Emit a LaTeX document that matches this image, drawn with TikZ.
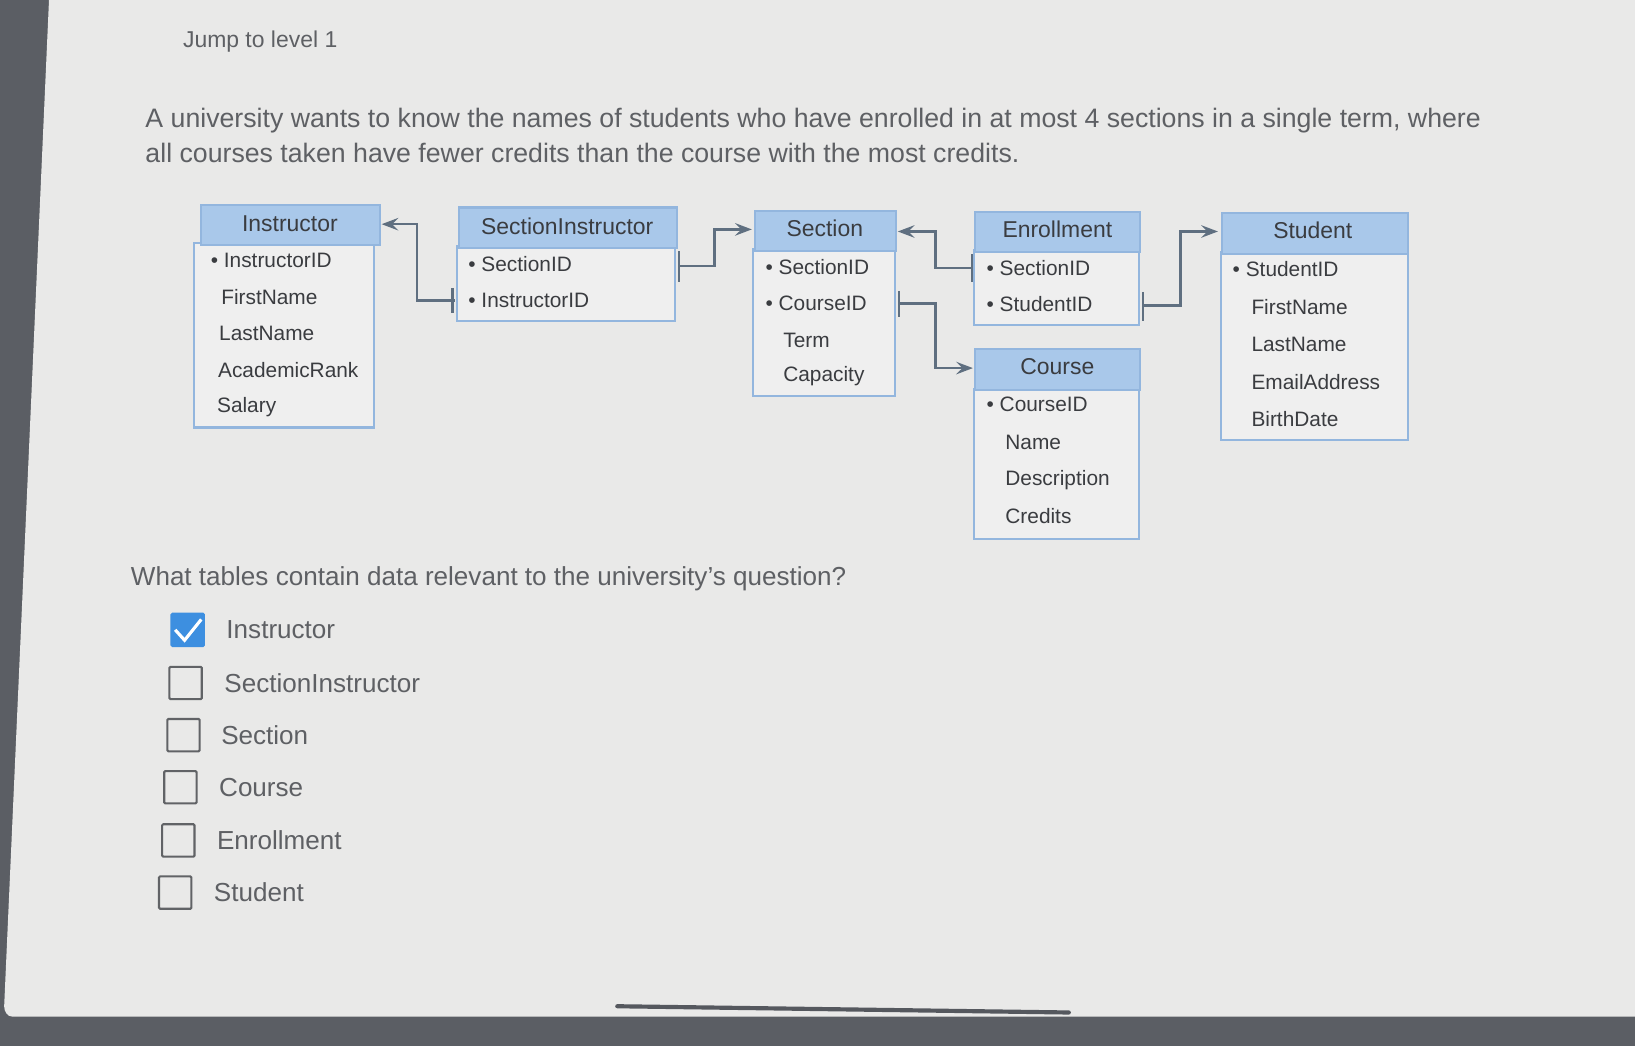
\documentclass[tikz,border=0pt]{standalone}
\usepackage{fontspec}
\setmainfont{Liberation Sans}
\usetikzlibrary{arrows.meta}
\definecolor{hdr}{HTML}{A9C8EA}
\definecolor{bdr}{HTML}{93B6DE}
\definecolor{bodyc}{HTML}{EFEFEF}
\definecolor{txt}{HTML}{3A3C40}
\definecolor{gtxt}{HTML}{5E6064}
\definecolor{conn}{HTML}{5F6F80}
\definecolor{chk}{HTML}{3D8FE0}
\definecolor{dark}{HTML}{5B5E64}
\definecolor{page}{HTML}{E9E9E8}
\definecolor{barc}{HTML}{55585E}
\tikzset{
 tbody/.style={draw=bdr,line width=2pt,fill=bodyc},
 thead/.style={draw=bdr,line width=2pt,fill=hdr},
 htext/.style={text=txt,font=\fontsize{22}{25}\selectfont},
 rtext/.style={text=txt,font=\fontsize{20}{23}\selectfont,anchor=west,inner sep=0pt},
 link/.style={draw=conn,line width=2.4pt,-{Stealth[length=16pt,width=12pt,inset=6pt]}},
 bar/.style={draw=conn,line width=2.4pt},
 box/.style={draw=txt!80,line width=2pt,minimum size=31pt,inner sep=0pt,rounded corners=1pt},
 opt/.style={text=gtxt,font=\fontsize{25}{28}\selectfont,anchor=west,inner sep=0pt}
}
\begin{document}
\begin{tikzpicture}[x=1pt,y=-1pt]
\useasboundingbox (0,0) rectangle (1568,1003);
\fill[dark] (0,0) rectangle (1568,1003);
\fill[page] (47,0) -- (1568,0) -- (1568,975) -- (12,975) to[out=180,in=-90] (4,965) -- cycle;
\node[text=gtxt,font=\fontsize{22}{25}\selectfont,anchor=west] (jump) at (172,40) {Jump to level 1};
\node[text=gtxt,font=\fontsize{25.6}{34}\selectfont,anchor=north west,align=left] (q) at (136,100) {A university wants to know the names of students who have enrolled in at most 4 sections in a single term, where\\all courses taken have fewer credits than the course with the most credits.};
% Instructor
\path[tbody] (186,233) rectangle (359,410);
\path[thead] (193,197) rectangle (364,235);
\node[htext] (ih) at (278,215) {Instructor};
\node[rtext] (i1) at (202,250) {• InstructorID};
\node[rtext] (i2) at (212,285) {FirstName};
\node[rtext] (i3) at (210,320) {LastName};
\node[rtext] (i4) at (209,355) {AcademicRank};
\node[rtext] (i5) at (208,390) {Salary};
% SectionInstructor
\path[tbody] (438,236) rectangle (647,308);
\path[thead] (440,199) rectangle (649,238);
\node[htext] (sih) at (544,217) {SectionInstructor};
\node[rtext] (si1) at (449,253) {• SectionID};
\node[rtext] (si2) at (449,288) {• InstructorID};
% Section
\path[tbody] (722,239) rectangle (858,380);
\path[thead] (724,202) rectangle (859,241);
\node[htext] (sh) at (791,219) {Section};
\node[rtext] (s1) at (734,256) {• SectionID};
\node[rtext] (s2) at (734,291) {• CourseID};
\node[rtext] (s3) at (751,326) {Term};
\node[rtext] (s4) at (751,361) {Capacity};
% Enrollment
\path[tbody] (934,240) rectangle (1092,312);
\path[thead] (935,203) rectangle (1093,242);
\node[htext] (eh) at (1014,220) {Enrollment};
\node[rtext] (e1) at (946,257) {• SectionID};
\node[rtext] (e2) at (946,292) {• StudentID};
% Course
\path[tbody] (934,373) rectangle (1092,517);
\path[thead] (935,335) rectangle (1093,374);
\node[htext] (ch) at (1014,352) {Course};
\node[rtext] (c1) at (946,388) {• CourseID};
\node[rtext] (c2) at (964,424) {Name};
\node[rtext] (c3) at (964,460) {Description};
\node[rtext] (c4) at (964,495) {Credits};
% Student
\path[tbody] (1171,242) rectangle (1350,422);
\path[thead] (1172,204) rectangle (1350,244);
\node[htext] (sth) at (1259,221) {Student};
\node[rtext] (st1) at (1182,258) {• StudentID};
\node[rtext] (st2) at (1200,294) {FirstName};
\node[rtext] (st3) at (1200,330) {LastName};
\node[rtext] (st4) at (1200,366) {EmailAddress};
\node[rtext] (st5) at (1200,402) {BirthDate};
% connectors
\coordinate (a0) at (436,288); \coordinate (a1) at (366,215);
\draw[link] (a0) -- (400,288) -- (400,215) -- (a1);
\draw[bar] (434,276) -- (434,300);
\coordinate (b0) at (651,255); \coordinate (b1) at (721,220);
\draw[link] (b0) -- (685,255) -- (685,220) -- (b1);
\draw[bar] (651,241) -- (651,270);
\coordinate (c0) at (932,257); \coordinate (cc1) at (861,222);
\draw[link] (c0) -- (897,257) -- (897,222) -- (cc1);
\draw[bar] (932,244) -- (932,270);
\coordinate (d0) at (862,291); \coordinate (d1) at (933,353);
\draw[link] (d0) -- (897,291) -- (897,353) -- (d1);
\draw[bar] (862,279) -- (862,304);
\coordinate (f0) at (1096,293); \coordinate (f1) at (1168,222);
\draw[link] (f0) -- (1132,293) -- (1132,222) -- (f1);
\draw[bar] (1096,280) -- (1096,308);
% question
\node[text=gtxt,font=\fontsize{25}{28}\selectfont,anchor=west] (q2) at (122,555) {What tables contain data relevant to the university's question?};
\node[box,draw=chk,fill=chk] (k1) at (180,604) {};
\draw[white,line width=3pt] (168,604) -- (177,614) -- (193,594);
\node[opt] (o1) at (217,604) {Instructor};
\node[box] (k2) at (178,655) {}; \node[opt] (o2) at (215,655) {SectionInstructor};
\node[box] (k3) at (176,705) {}; \node[opt] (o3) at (212,705) {Section};
\node[box] (k4) at (173,755) {}; \node[opt] (o4) at (210,755) {Course};
\node[box] (k5) at (171,806) {}; \node[opt] (o5) at (208,806) {Enrollment};
\node[box] (k6) at (168,856) {}; \node[opt] (o6) at (205,856) {Student};
\draw[barc,line width=4pt,line cap=round] (592,965) -- (1025,971);
\end{tikzpicture}
\end{document}
